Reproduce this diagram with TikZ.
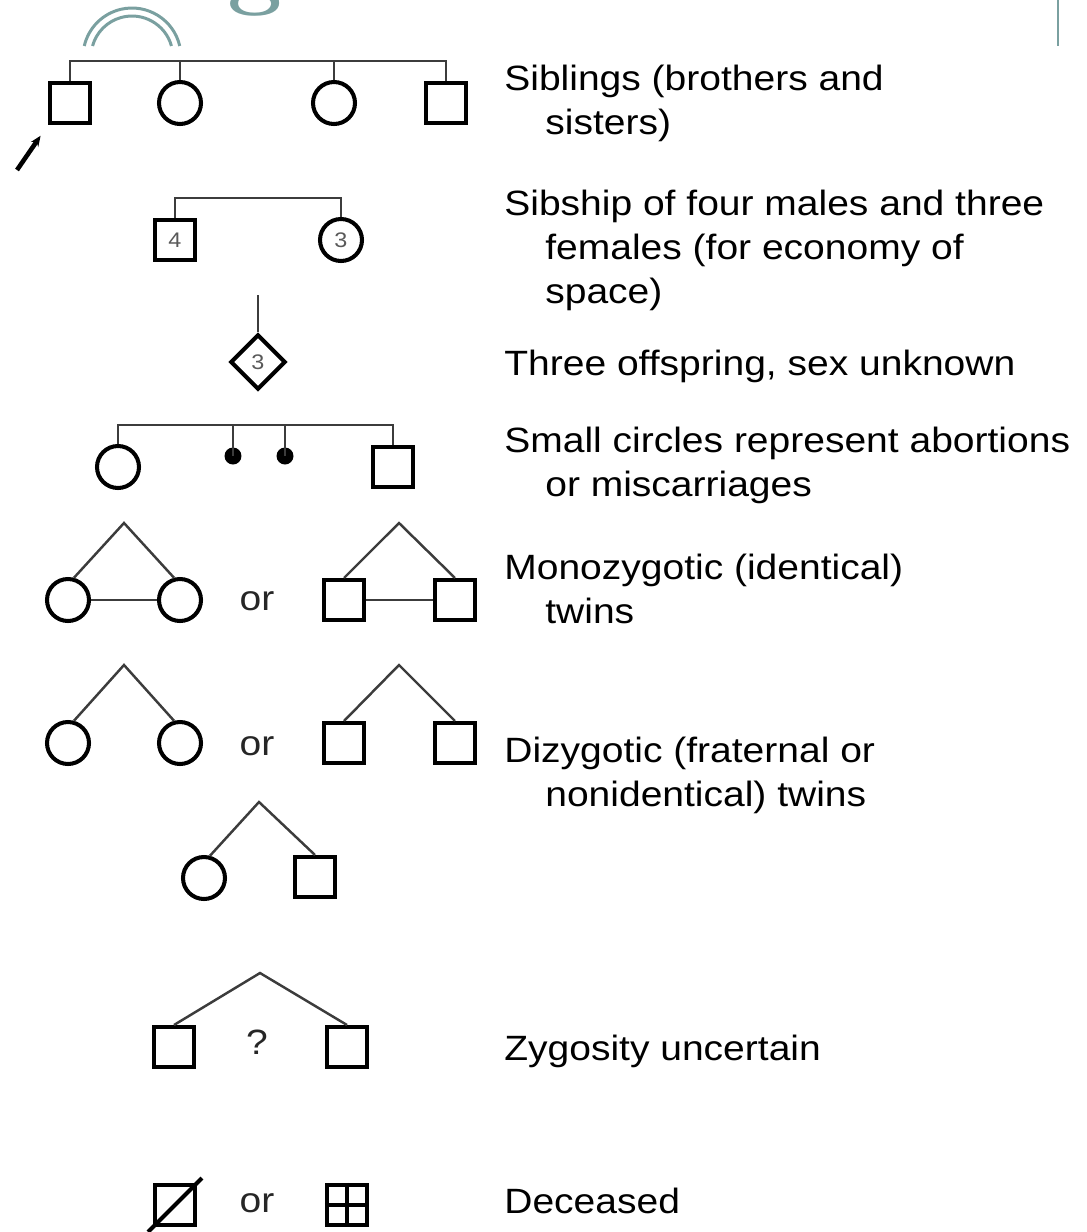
\documentclass[tikz,border=0pt]{standalone}
\usepackage{fontspec}
\newfontfamily\pedfont[FakeStretch=1.11]{Liberation Sans}
\usetikzlibrary{arrows.meta, shapes.geometric}
\definecolor{slideteal}{RGB}{122,160,160}
\definecolor{linkgray}{RGB}{60,60,60}
\newcommand{\contind}{\hspace*{0.82cm}}

\begin{document}
\begin{tikzpicture}[
  x=0.02cm, y=-0.02cm,
  >=Stealth,
  male/.style={draw, line width=2.3pt, minimum size=0.8cm, inner sep=0pt,
    font=\pedfont\fontsize{12pt}{12pt}\selectfont, text=black!65},
  female/.style={male, circle, minimum size=0.84cm},
  unknown/.style={male, diamond, minimum size=1.1cm},
  lost/.style={circle, fill, inner sep=0pt, minimum size=0.34cm},
  link/.style={linkgray, line width=1.4pt},
  desc/.style={anchor=base west, inner sep=0pt, align=left,
    font=\pedfont\fontsize{20pt}{25pt}\selectfont},
  word/.style={anchor=base, inner sep=0pt, text=black!85,
    font=\pedfont\fontsize{20pt}{25pt}\selectfont}
]
\useasboundingbox (0,0) rectangle (1087,1232);

% Slide title remains (cut off at the top)
\begin{scope}
  \clip (0,0) rectangle (1087,1232);
  \node[anchor=base, inner sep=0pt, text=slideteal,
    font=\fontsize{56pt}{56pt}\selectfont\bfseries] (ttl) at (255,-4) {g};
\end{scope}
\draw[slideteal, line width=1.7pt] (132,57) ++(13:0.98cm) arc[start angle=13, end angle=167, radius=0.98cm];
\draw[slideteal, line width=1.7pt] (132,57) ++(15.6:0.82cm) arc[start angle=15.6, end angle=164.4, radius=0.82cm];
\draw[slideteal, line width=1.2pt] (1058,0) -- (1058,46);

% Siblings
\node[male] (s1) at (70,103) {};
\node[female] (s2) at (180,103) {};
\node[female] (s3) at (334,103) {};
\node[male] (s4) at (446,103) {};
\coordinate (sibbar) at (0,61);
\draw[link] (s1.north) |- (sibbar -| s4) -- (s4.north);
\foreach \n in {s2,s3} \draw[link] (\n.north) -- (\n |- sibbar);
\coordinate (prob) at (17,170);
\draw[-{Stealth[length=6pt,width=5pt]}, line width=2.6pt, shorten >=0.26cm] (prob) -- (s1.south west);

% Sibship of four males and three females
\node[male] (m4) at (175,240) {4};
\node[female] (f3) at (341,240) {3};
\coordinate (shipbar) at (0,198);
\draw[link] (m4.north) |- (shipbar -| f3) -- (f3.north);

% Three offspring
\node[unknown] (u3) at (258,362) {3};
\coordinate (utop) at (258,295);
\draw[link] (utop) -- (u3.north);

% Abortions
\node[female] (a1) at (118,467) {};
\node[lost] (a2) at (233,456) {};
\node[lost] (a3) at (285,456) {};
\node[male] (a4) at (393,467) {};
\coordinate (abbar) at (0,425);
\draw[link] (a1.north) |- (abbar -| a4) -- (a4.north);
\foreach \n in {a2,a3} \draw[link] (\n.center) -- (\n |- abbar);

% Monozygotic twins
\node[female] (mz1) at (68,600) {};
\node[female] (mz2) at (180,600) {};
\coordinate (mzf) at (124,523);
\draw[link] (mz1.75) -- (mzf) -- (mz2.105);
\draw[link] (mz1) -- (mz2);
\node[word] (or1) at (257,610) {or};
\node[male] (mz3) at (344,600) {};
\node[male] (mz4) at (455,600) {};
\coordinate (mzm) at (399,523);
\draw[link] (mz3.north) -- (mzm) -- (mz4.north);
\draw[link] (mz3) -- (mz4);

% Dizygotic twins
\node[female] (dz1) at (68,743) {};
\node[female] (dz2) at (180,743) {};
\coordinate (dzf) at (124,665);
\draw[link] (dz1.75) -- (dzf) -- (dz2.105);
\node[word] (or2) at (257,755) {or};
\node[male] (dz3) at (344,743) {};
\node[male] (dz4) at (455,743) {};
\coordinate (dzm) at (399,665);
\draw[link] (dz3.north) -- (dzm) -- (dz4.north);
\node[female] (dz5) at (204,878) {};
\node[male] (dz6) at (315,877) {};
\coordinate (dzx) at (259,802);
\draw[link] (dz5.75) -- (dzx) -- (dz6.north);

% Zygosity uncertain
\node[male] (zu1) at (174,1047) {};
\node[male] (zu2) at (347,1047) {};
\coordinate (zut) at (260,973);
\draw[link] (zu1.north) -- (zut) -- (zu2.north);
\node[word] (qm) at (257,1054) {?};

% Deceased
\node[male] (dc1) at (175,1205) {};
\draw[line width=2.3pt, shorten <=-0.14cm, shorten >=-0.14cm] (dc1.south west) -- (dc1.north east);
\node[word] (or3) at (257,1212) {or};
\node[male] (dc2) at (347,1205) {};
\draw[line width=2.3pt] (dc2.north) -- (dc2.south) (dc2.west) -- (dc2.east);

% Descriptions (base = last line)
\node[desc] (t1) at (504,134) {Siblings (brothers and\\\contind sisters)};
\node[desc] (t2) at (504,303) {Sibship of four males and three\\\contind females (for economy of\\\contind space)};
\node[desc] (t3) at (504,375) {Three offspring, sex unknown};
\node[desc] (t4) at (504,496) {Small circles represent abortions\\\contind or miscarriages};
\node[desc] (t5) at (504,623) {Monozygotic (identical)\\\contind twins};
\node[desc] (t6) at (504,806) {Dizygotic (fraternal or\\\contind nonidentical) twins};
\node[desc] (t7) at (504,1060) {Zygosity uncertain};
\node[desc] (t8) at (504,1213) {Deceased};

\end{tikzpicture}
\end{document}
